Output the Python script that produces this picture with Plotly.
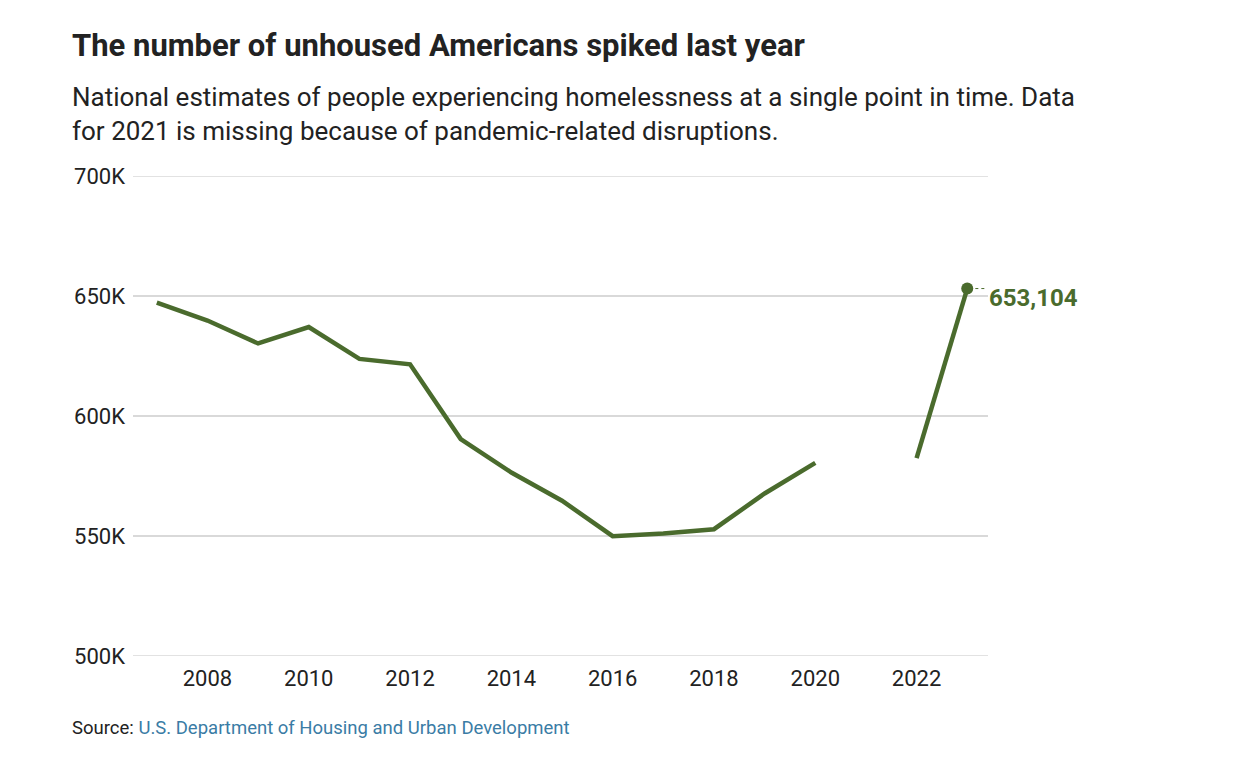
import plotly.graph_objects as go

years = [2007, 2008, 2009, 2010, 2011, 2012, 2013, 2014, 2015, 2016, 2017, 2018, 2019, 2020, 2021, 2022, 2023]
homeless = [647258, 639784, 630227, 637077, 623788, 621553, 590364, 576450, 564708, 549928, 550996, 552830, 567715, 580466, None, 582462, 653104]
y_ticks = [500000, 550000, 600000, 650000, 700000]
y_tick_labels = ["500K", "550K", "600K", "650K", "700K"]
x_ticks = [2008, 2010, 2012, 2014, 2016, 2018, 2020, 2022]
last_label = "653,104"

GREEN = "#4a6b2d"
GRID = "#d9d9d9"
FONT = "Roboto, Liberation Sans, sans-serif"
PLOT_W = 855.0

fig = go.Figure()

# edge gridlines (plotly hides gridlines that sit on the range edges)
for yv in (y_ticks[0], y_ticks[-1]):
    fig.add_shape(type="line", xref="paper", yref="y", x0=0, x1=1, y0=yv, y1=yv,
                  line=dict(color=GRID, width=1.5), layer="below")

fig.add_trace(go.Scatter(
    x=years, y=homeless, mode="lines",
    line=dict(color=GREEN, width=4.5), connectgaps=False,
    hoverinfo="skip", showlegend=False,
))
fig.add_trace(go.Scatter(
    x=[years[-1]], y=[homeless[-1]], mode="markers",
    marker=dict(color=GREEN, size=12), hoverinfo="skip", showlegend=False,
))
fig.add_annotation(
    x=years[-1], y=homeless[-1], xref="x", yref="y",
    text="<b>%s</b>" % last_label, showarrow=False,
    xanchor="left", yanchor="middle", xshift=20, yshift=-9,
    font=dict(family=FONT, size=24, color=GREEN),
)
fig.add_shape(
    type="line", xref="x", yref="y",
    x0=years[-1] + 0.16, x1=years[-1] + 0.38,
    y0=homeless[-1], y1=homeless[-1],
    line=dict(color=GREEN, width=1, dash="dot"),
)

fig.update_layout(
    width=1244, height=772,
    paper_bgcolor="white", plot_bgcolor="white",
    margin=dict(l=125, r=264, t=168, b=124),
    font=dict(family=FONT, color="#222222"),
    xaxis=dict(
        range=[2006.53, 2023.41], tickvals=x_ticks,
        showgrid=False, zeroline=False, showline=False,
        ticks="", tickfont=dict(size=22, color="#222222"),
        ticklabelstandoff=7, fixedrange=True,
    ),
    yaxis=dict(
        range=[500000, 700000], tickvals=y_ticks, ticktext=y_tick_labels,
        showgrid=True, gridcolor=GRID, gridwidth=1.5,
        zeroline=False, showline=False, ticks="",
        tickfont=dict(size=22, color="#222222"),
        ticklabelstandoff=7, fixedrange=True,
    ),
)

x_left = -63 / PLOT_W
fig.add_annotation(
    xref="paper", yref="paper", x=x_left, y=1.0, yanchor="middle",
    xanchor="left", yshift=131, align="left", showarrow=False,
    text="<b>The number of unhoused Americans spiked last year</b>",
    font=dict(family=FONT, size=31, color="#222222"),
)
fig.add_annotation(
    xref="paper", yref="paper", x=x_left, y=1.0, yanchor="middle",
    xanchor="left", yshift=62, align="left", showarrow=False,
    text="National estimates of people experiencing homelessness at a single point in time. Data<br>for 2021 is missing because of pandemic-related disruptions.",
    font=dict(family=FONT, size=26, color="#222222"),
)
fig.add_annotation(
    xref="paper", yref="paper", x=x_left, y=0.0, yanchor="middle",
    xanchor="left", yshift=-72, align="left", showarrow=False,
    text="Source: <span style='color:#3a7ca5'>U.S. Department of Housing and Urban Development</span>",
    font=dict(family=FONT, size=18.5, color="#222222"),
)

fig.write_html("out.html")
